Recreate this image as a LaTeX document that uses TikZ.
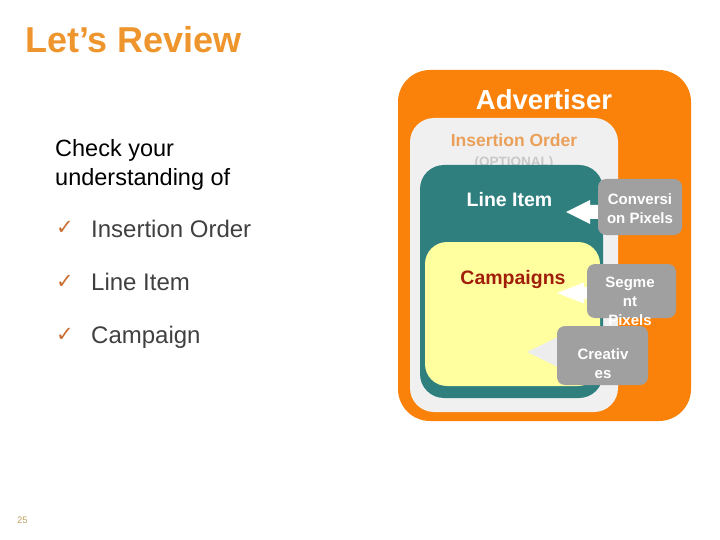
\documentclass[tikz,border=0pt]{standalone}
\usepackage{fontspec}
\setmainfont{Liberation Sans}
\newfontfamily\checkfont{DejaVu Sans}
\usepackage{tikz}
\usetikzlibrary{positioning}
\definecolor{titleorange}{RGB}{238,150,45}
\definecolor{advorange}{RGB}{250,130,10}
\definecolor{iogray}{RGB}{240,240,240}
\definecolor{liteal}{RGB}{48,127,127}
\definecolor{campyellow}{RGB}{255,255,160}
\definecolor{campred}{RGB}{160,30,10}
\definecolor{iotext}{RGB}{235,160,90}
\definecolor{opttext}{RGB}{200,200,200}
\definecolor{pixgray}{RGB}{160,160,160}
\definecolor{tickbrown}{RGB}{200,110,50}
\definecolor{itemgray}{RGB}{64,64,64}
\definecolor{pagegold}{RGB}{192,160,96}

\begin{document}
\begin{tikzpicture}[x=1pt,y=-1pt,
  every node/.style={inner sep=0pt},
  nestbox/.style={rectangle, rounded corners=#1},
  pixbox/.style={rectangle, rounded corners=8pt, fill=pixgray},
  pixtext/.style={anchor=north, align=center, text=white, font=\fontsize{15}{19}\selectfont\bfseries},
  tick/.style={anchor=base west, text=tickbrown, font=\checkfont\fontsize{21}{24}\selectfont},
  item/.style={anchor=base west, text=itemgray, font=\fontsize{24}{28}\selectfont}]
\useasboundingbox (0,0) rectangle (720,540);

\node[anchor=west, text=titleorange, font=\fontsize{36}{40}\selectfont\bfseries] (title) at (25,40) {Let’s Review};

\node[anchor=base west, font=\fontsize{23.5}{29}\selectfont] (check) at (55,157) {Check your};
\node[anchor=base west, font=\fontsize{23.5}{29}\selectfont] (under) at (55,186) {understanding of};

\node[tick] (tick1) at (56,235) {✓};
\node[item] (item1) at (91,237) {Insertion Order};
\node[tick] (tick2) at (56,288) {✓};
\node[item] (item2) at (91,290) {Line Item};
\node[tick] (tick3) at (56,341) {✓};
\node[item] (item3) at (91,343) {Campaign};

\node[anchor=base west, text=pagegold, font=\fontsize{9.5}{11}\selectfont] (pagenum) at (17,523) {25};

\node[nestbox=32pt, fill=advorange, minimum width=293, minimum height=351] (adv) at (544.5,245.5) {};
\node[anchor=base, text=white, font=\fontsize{27.5}{30}\selectfont\bfseries] (advlabel) at (544,110) {Advertiser};

\node[nestbox=24pt, fill=iogray, minimum width=208, minimum height=294] (io) at (514,265) {};
\node[anchor=base, text=iotext, font=\fontsize{17.5}{20}\selectfont\bfseries] (iolabel) at (514,147) {Insertion Order};
\node[anchor=base, text=opttext, font=\fontsize{13.5}{16}\selectfont\bfseries] (optlabel) at (514,167) {(OPTIONAL)};

\node[nestbox=24pt, fill=liteal, minimum width=183, minimum height=233] (li) at (511.5,281.5) {};
\node[anchor=base, text=white, font=\fontsize{19.5}{22}\selectfont\bfseries] (lilabel) at (509.5,207) {Line Item};

\node[nestbox=22pt, fill=campyellow, minimum width=175, minimum height=144] (camp) at (512.5,314) {};
\node[anchor=base, text=campred, font=\fontsize{19.5}{22}\selectfont\bfseries] (camplabel) at (513,284) {Campaigns};

\coordinate (litip) at (566,212);
\coordinate (camptip) at (557,293);
\coordinate (cretip) at (527,352);
\fill[white] (litip) -- ++(24,-12) -- ++(0,5) -- ++(12,0) -- ++(0,14) -- ++(-12,0) -- ++(0,5) -- cycle;
\fill[white] (camptip) -- ++(27,-10.5) -- ++(0,4.5) -- ++(8,0) -- ++(0,12) -- ++(-8,0) -- ++(0,4.5) -- cycle;
\fill[black!7] (cretip) -- ++(30,-14.5) -- ++(0,6) -- ++(6,0) -- ++(0,17) -- ++(-6,0) -- ++(0,6) -- cycle;

\node[pixbox, minimum width=84, minimum height=56] (conv) at (640,207) {};
\node[pixtext] (convlabel) at (640,193) {Conversi\\on Pixels};

\node[pixbox, minimum width=89, minimum height=54] (seg) at (631.5,291) {};
\node[pixtext] (seglabel) at (630,277) {Segme\\nt\\Pixels};

\node[pixbox, minimum width=91, minimum height=59] (cre) at (602.5,355.5) {};
\node[pixtext] (crelabel) at (603,348) {Creativ\\es};
\end{tikzpicture}
\end{document}
